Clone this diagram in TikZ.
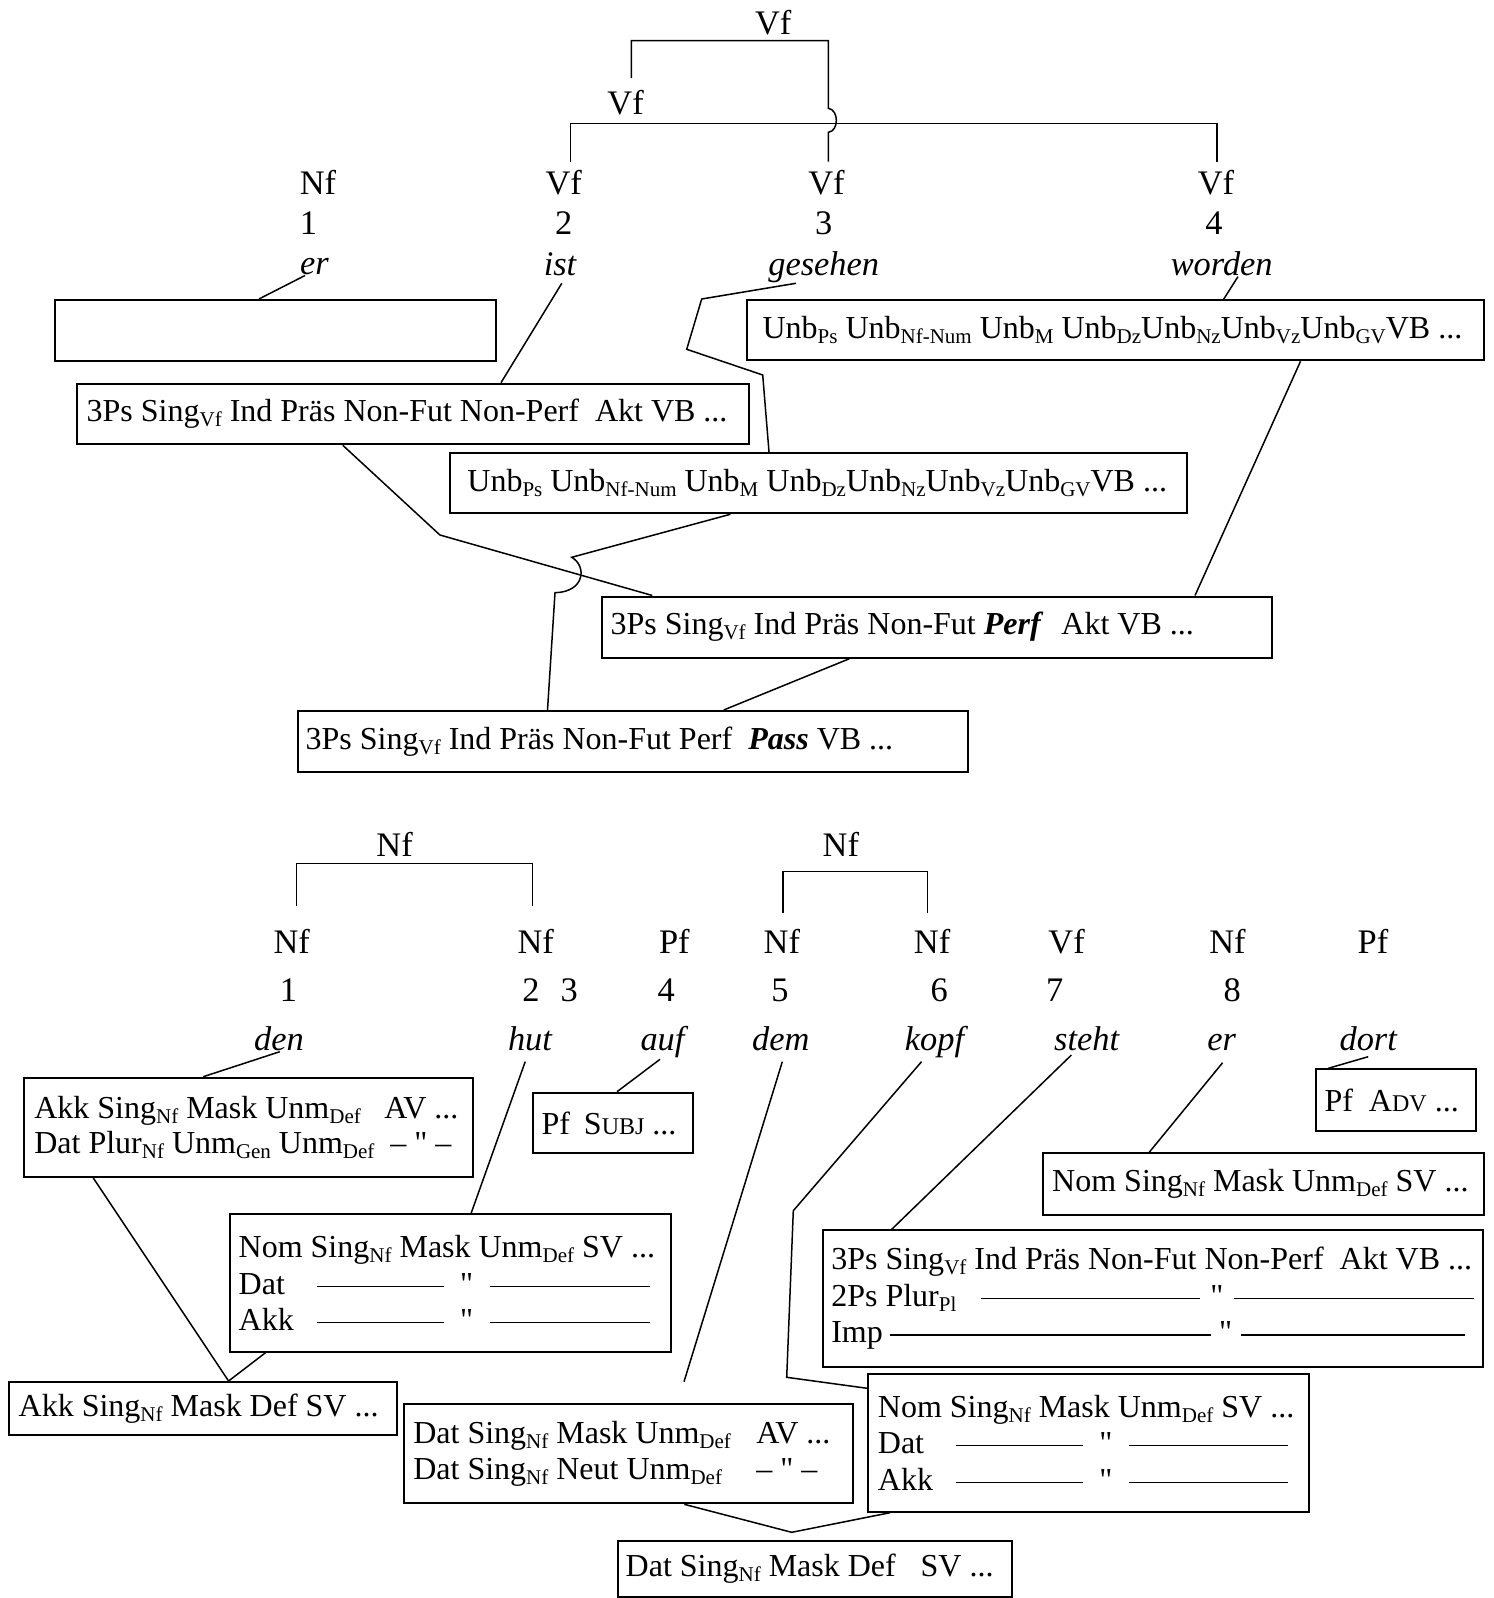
\documentclass[tikz,border=0pt]{standalone}
\usepackage{fontspec}
\setmainfont{Liberation Serif}
\newfontfamily\dittofont{Liberation Serif}
\usetikzlibrary{calc}
\newcommand{\nodefont}{\fontsize{16pt}{18.3pt}\selectfont}
\newcommand{\tightfont}{\fontsize{16pt}{17.5pt}\selectfont}
\newcommand{\subt}[1]{\raisebox{-2.5pt}{\fontsize{10.5pt}{10.5pt}\selectfont #1}}
\newcommand{\smc}[1]{{\fontsize{12pt}{12pt}\selectfont #1}}
\newcommand{\blank}[1]{\rule[3.7pt]{#1}{0.6pt}}
\newcommand{\ditto}{{\dittofont"}}

\begin{document}
\begin{tikzpicture}[x=0.5pt, y=-0.5pt,
  every node/.style={font=\nodefont, inner sep=0pt},
  lbl/.style={anchor=base, font=\fontsize{17.2pt}{19pt}\selectfont},
  wrd/.style={anchor=base, font=\fontsize{17.2pt}{19pt}\selectfont\itshape},
  fsbox/.style={draw, line width=1pt, anchor=north west, align=left, inner ysep=0pt,
    execute at begin node={\spaceskip=0pt\xspaceskip=0pt\relax}},
  link/.style={line width=0.75pt}]
  \useasboundingbox (0,0) rectangle (1493,1598);

  \node[lbl] (vTop) at (773.2,35) {Vf};
  \node[lbl] (vMid) at (625.6,115) {Vf};
  \node[lbl] (tc1) at (318,195) {Nf};
  \node[lbl] (tc2) at (563.7,195) {Vf};
  \node[lbl] (tc3) at (826.5,195) {Vf};
  \node[lbl] (tc4) at (1216,195) {Vf};
  \node[lbl] (tn1) at (308.5,235) {1};
  \node[lbl] (tn2) at (563.7,235) {2};
  \node[lbl] (tn3) at (823.7,235) {3};
  \node[lbl] (tn4) at (1214,235) {4};
  \node[wrd] (tw1) at (314.5,274.5) {er};
  \node[wrd] (tw2) at (560,276) {ist};
  \node[wrd] (tw3) at (823.7,276) {gesehen};
  \node[wrd] (tw4) at (1221.7,276) {worden};

  \draw[link] ($(vMid.north)+(5.7,-12.2)$) |- ($(vTop.base)+(0,5.7)$) -| (828.4,108.3) .. controls (839,110) and (839,131) .. (828.4,132.3) -- ($(tc3.north)+(1.9,-8.8)$);
  \draw[link] ($(tc2.north)+(6.7,-8.8)$) |- ($(vMid.base)+(0,8.3)$) -| ($(tc4.north)+(0.9,-8.8)$);

  \node[fsbox, minimum width=220.4pt, minimum height=30.5pt] (b0) at (54.3,299) {};
  \node[fsbox, text width=352.5pt, inner xsep=8pt, minimum height=30pt] (bB) at (745.6,299.3) {\mbox{Unb\subt{Ps} Unb\subt{Nf-Num} Unb\subt{M} Unb\subt{Dz}Unb\subt{Nz}Unb\subt{Vz}Unb\subt{GV}VB ...}};
  \node[fsbox, text width=326.15pt, inner xsep=4.75pt, minimum height=30.3pt] (bA) at (76.2,382.7) {\mbox{3Ps Sing\subt{Vf} Ind Präs Non-Fut Non-Perf\hspace{8pt}Akt VB ...}};
  \node[fsbox, text width=351.5pt, inner xsep=8.5pt, minimum height=30.15pt] (bC) at (449.4,452) {\mbox{Unb\subt{Ps} Unb\subt{Nf-Num} Unb\subt{M} Unb\subt{Dz}Unb\subt{Nz}Unb\subt{Vz}Unb\subt{GV}VB ...}};
  \node[fsbox, text width=326.5pt, inner xsep=4.3pt, minimum height=30.6pt] (bD) at (601,595.5) {\mbox{3Ps Sing\subt{Vf} Ind Präs Non-Fut \textbf{\textit{Perf}}\hspace{9pt}Akt VB ...}};
  \node[fsbox, text width=327.55pt, inner xsep=3.8pt, minimum height=30.35pt] (bE) at (297.1,710) {\mbox{3Ps Sing\subt{Vf} Ind Präs Non-Fut Perf\hspace{8pt}\textbf{\textit{Pass}} VB ...}};

  \draw[link] ($(tw1.base)+(-9.5,1)$) -- ($(b0.north west)+(204.7,0)$);
  \draw[link] ($(tw2.base)+(1.8,7.3)$) -- ($(bA.north west)+(424.8,0)$);
  \draw[link] ($(tw3.base)+(-27.7,7.3)$) -- (701.7,299) -- (686.7,349.3) -- (762.7,375) -- ($(bC.north west)+(319.6,0)$);
  \draw[link] ($(tw4.base)+(16.2,0.7)$) -- ($(bB.north west)+(478,0)$);
  \draw[link] ($(bB.south west)+(554.9,0)$) -- ($(bD.north west)+(594,0)$);
  \draw[link] ($(bA.south west)+(266.6,0)$) -- (439.9,535) -- ($(bD.north west)+(51.3,0)$);
  \draw[link] ($(bC.south west)+(280.9,0)$) -- (571.7,557.3) .. controls (587,566) and (585,592) .. (555,592.7) -- ($(bE.north west)+(250.4,0)$);
  \draw[link] ($(bD.south west)+(248.4,0)$) -- ($(bE.north west)+(426.6,0)$);

  \node[lbl] (nTop1) at (394.6,856.7) {Nf};
  \node[lbl] (nTop2) at (840.8,856.7) {Nf};
  \node[lbl] (bc1) at (291.8,953.3) {Nf};
  \node[lbl] (bc2) at (535.7,953.3) {Nf};
  \node[lbl] (bc4) at (674.4,953.3) {Pf};
  \node[lbl] (bc5) at (781.8,953.3) {Nf};
  \node[lbl] (bc6) at (932.1,953.3) {Nf};
  \node[lbl] (bc7) at (1066.6,953.3) {Vf};
  \node[lbl] (bc8) at (1227.4,953.3) {Nf};
  \node[lbl] (bc9) at (1373,953.3) {Pf};
  \node[lbl] (bn1) at (288.4,1001.7) {1};
  \node[lbl] (bn2) at (530.9,1001.7) {2};
  \node[lbl] (bn3) at (569.2,1001.7) {3};
  \node[lbl] (bn4) at (666.3,1001.7) {4};
  \node[lbl] (bn5) at (779.9,1001.7) {5};
  \node[lbl] (bn6) at (939.3,1001.7) {6};
  \node[lbl] (bn7) at (1054.6,1001.7) {7};
  \node[lbl] (bn8) at (1232.2,1001.7) {8};
  \node[wrd] (bw1) at (278.9,1050) {den};
  \node[wrd] (bw2) at (530,1050) {hut};
  \node[wrd] (bw4) at (662.5,1050) {auf};
  \node[wrd] (bw5) at (780.8,1050) {dem};
  \node[wrd] (bw6) at (934.5,1050) {kopf};
  \node[wrd] (bw7) at (1086.7,1050) {steht};
  \node[wrd] (bw8) at (1221.7,1050) {er};
  \node[wrd] (bw9) at (1368.2,1050) {dort};

  \draw[link] ($(bc1.north)+(4.8,-23.1)$) |- ($(nTop1.base)+(0,6.6)$) -| ($(bc2.north)+(-3.3,-23.1)$);
  \draw[link] ($(bc5.north)+(1.4,-15.8)$) |- ($(nTop2.base)+(0,15)$) -| ($(bc6.north)+(-4.8,-15.8)$);

  \node[fsbox, text width=213.9pt, inner xsep=5.3pt, minimum height=49.65pt, font=\tightfont] (bF) at (22.7,1076.7) {\makebox[175pt][l]{Akk Sing\subt{Nf} Mask Unm\subt{Def}}AV~...\\\makebox[178pt][l]{Dat Plur\subt{Nf} Unm\subt{Gen} Unm\subt{Def}}–~\ditto~–};
  \node[fsbox, text width=71.75pt, inner xsep=4.05pt, minimum height=30.3pt] (bG) at (532.4,1091.7) {\mbox{Pf\hspace{7pt}S\smc{UBJ} ...}};
  \node[fsbox, text width=71.55pt, inner xsep=4.1pt, minimum height=30.85pt] (bH) at (1315.3,1068.3) {\mbox{Pf\hspace{8pt}A\smc{DV} ...}};
  \node[fsbox, text width=211.05pt, inner xsep=4.8pt, minimum height=30.85pt] (bI) at (1041.6,1152.3) {\mbox{Nom Sing\subt{Nf} Mask Unm\subt{Def} SV ...}};
  \node[fsbox, text width=211.4pt, inner xsep=4.55pt, minimum height=68.7pt] (bJ) at (228.6,1213.3) {\mbox{Nom Sing\subt{Nf} Mask Unm\subt{Def} SV ...}\\\makebox[39pt][l]{Dat}\blank{63.4pt}\makebox[23.2pt]{\ditto}\blank{80pt}\\\makebox[39pt][l]{Akk}\blank{63.4pt}\makebox[23.2pt]{\ditto}\blank{80pt}};
  \node[fsbox, text width=321.5pt, inner xsep=4.35pt, minimum height=68.2pt] (bK) at (821.6,1229.3) {\mbox{3Ps Sing\subt{Vf} Ind Präs Non-Fut Non-Perf\hspace{8pt}Akt VB ...}\\\makebox[74.9pt][l]{2Ps Plur\subt{Pl}}\blank{109.3pt}\makebox[17.3pt]{\ditto}\blank{120pt}\\\makebox[29.3pt][l]{Imp}\blank{160.4pt}\makebox[14.9pt]{\ditto}\blank{112.2pt}};
  \node[fsbox, text width=184.35pt, inner xsep=4.8pt, minimum height=26.65pt] (bL) at (8.1,1381) {\mbox{Akk Sing\subt{Nf} Mask Def SV ...}};
  \node[fsbox, text width=215.15pt, inner xsep=4.55pt, minimum height=49.5pt] (bM) at (403.2,1403.3) {\makebox[171.5pt][l]{Dat Sing\subt{Nf} Mask Unm\subt{Def}}AV~...\\\makebox[171.5pt][l]{Dat Sing\subt{Nf} Neut Unm\subt{Def}}–~\ditto~–};
  \node[fsbox, text width=210.8pt, inner xsep=4.8pt, minimum height=69pt] (bN) at (867.3,1372.7) {\mbox{Nom Sing\subt{Nf} Mask Unm\subt{Def} SV ...}\\\makebox[38.9pt][l]{Dat}\blank{63.6pt}\makebox[23pt]{\ditto}\blank{79.7pt}\\\makebox[38.9pt][l]{Akk}\blank{63.6pt}\makebox[23pt]{\ditto}\blank{79.7pt}};
  \node[fsbox, text width=189.25pt, inner xsep=4.05pt, minimum height=28.25pt] (bO) at (616.6,1539.5) {\makebox[147.5pt][l]{Dat Sing\subt{Nf} Mask Def}SV~...};

  \coordinate (demEnd) at ($(bM.north west)+(280.8,-21.6)$);
  \coordinate (oJoin) at ($(bO.north west)+(175.1,-7.2)$);
  \draw[link] ($(bw1.base)+(0.9,1.7)$) -- ($(bF.north west)+(180.6,0)$);
  \draw[link] ($(bw2.base)+(-4.8,11.7)$) -- ($(bJ.north west)+(242.5,0)$);
  \draw[link] ($(bw4.base)+(-2.5,9.3)$) -- ($(bG.north west)+(84.6,0)$);
  \draw[link] ($(bw9.base)+(0,6.7)$) -- ($(bH.north west)+(13,0)$);
  \draw[link] ($(bw5.base)+(1.5,11.7)$) -- (demEnd);
  \draw[link] ($(bw6.base)+(-13,11.7)$) -- (793.3,1210.7) -- (786.7,1377.3) -- ($(bN.north west)+(0,15.6)$);
  \draw[link] ($(bw7.base)+(-15.3,5)$) -- ($(bK.north west)+(70.1,0)$);
  \draw[link] ($(bw8.base)+(0.9,12.7)$) -- ($(bI.north west)+(107.6,0)$);
  \draw[link] ($(bF.south west)+(70.6,0)$) -- ($(bL.north west)+(220.5,0)$) -- ($(bJ.south west)+(36.9,0)$);
  \draw[link] ($(bM.south west)+(281.1,0)$) -- (oJoin) -- ($(bN.south west)+(22.7,0)$);
\end{tikzpicture}
\end{document}
